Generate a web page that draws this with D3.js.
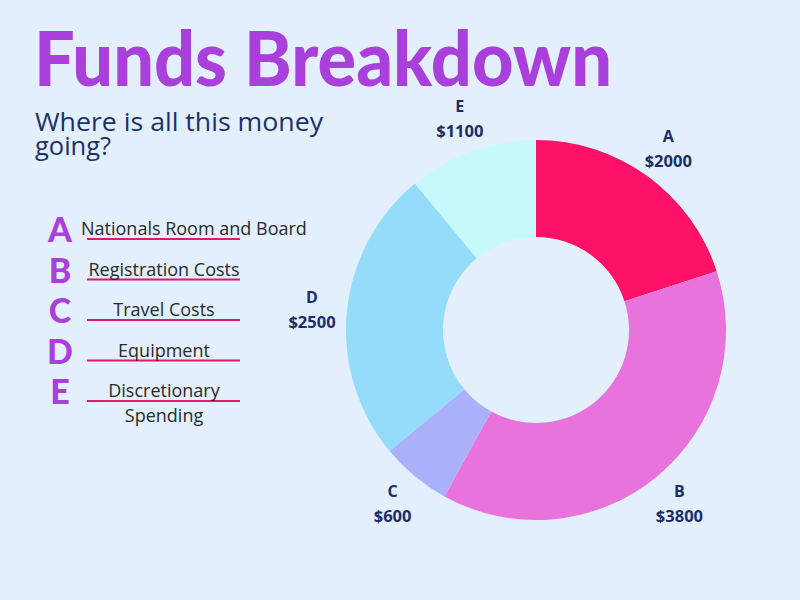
<!DOCTYPE html>
<html><head><meta charset="utf-8">
<script src="https://cdn.jsdelivr.net/npm/d3@7"></script>
<style>
html,body{margin:0;padding:0;background:#e3effc;}
svg{display:block;}
</style></head>
<body>
<svg id="chart" width="800" height="600"></svg>
<script>
const categories = ["A","B","C","D","E"];
const values = [2000,3800,600,2500,1100];
const valueLabels = ["$2000","$3800","$600","$2500","$1100"];
const descriptions = [["Nationals Room and Board"],["Registration Costs"],["Travel Costs"],["Equipment"],["Discretionary","Spending"]];
const colors = ["#fd1267","#e873dc","#aab1fa","#95dcfb","#c6f8fc"];

const svg = d3.select("#chart");
svg.append("rect").attr("width",800).attr("height",600).attr("fill","#e3effc");

// Title
svg.append("text").attr("x",34).attr("y",86)
  .attr("font-family","Lato").attr("font-weight",900).attr("font-size",77)
  .attr("fill","#a940dc").attr("textLength",578).attr("lengthAdjust","spacingAndGlyphs")
  .text("Funds Breakdown");

svg.append("text").attr("x",35).attr("y",131)
  .attr("font-family","Open Sans").attr("font-size",25.5).attr("fill","#1d2f6d")
  .attr("textLength",288).attr("lengthAdjust","spacingAndGlyphs")
  .text("Where is all this money");
svg.append("text").attr("x",35).attr("y",155)
  .attr("font-family","Open Sans").attr("font-size",25.5).attr("fill","#1d2f6d")
  .text("going?");

// Legend
const ly = d3.scalePoint().domain(categories).range([242,404]);
const leg = svg.append("g").selectAll("g").data(categories).join("g");
leg.append("text").attr("x",60).attr("y",d=>ly(d))
  .attr("text-anchor","middle").attr("font-family","Lato").attr("font-weight",900)
  .attr("font-size",34).attr("fill","#a940dc").text(d=>d);
leg.append("line").attr("x1",87).attr("x2",240)
  .attr("y1",d=>ly(d)-3).attr("y2",d=>ly(d)-3)
  .attr("stroke","#e0196b").attr("stroke-width",2.2);
leg.each(function(d,i){
  const g = d3.select(this);
  const lines = descriptions[i];
  lines.forEach((t,j)=>{
    g.append("text")
      .attr("x", i===0 ? 81 : 164)
      .attr("text-anchor", i===0 ? "start" : "middle")
      .attr("y", ly(d) - 7 + j*25)
      .attr("font-family","Open Sans").attr("font-size",18).attr("fill","#2a2a2a")
      .text(t);
  });
});

// Donut
const cx = 536, cy = 330, R = 190, r0 = 93, rl = 225;
const pie = d3.pie().sort(null).value(d=>d.v);
const data = pie(categories.map((c,i)=>({c, v:values[i], lab:valueLabels[i], col:colors[i]})));
const arc = d3.arc().innerRadius(r0).outerRadius(R);
const labArc = d3.arc().innerRadius(rl).outerRadius(rl);
const g = svg.append("g").attr("transform",`translate(${cx},${cy})`);
g.selectAll("path").data(data).join("path").attr("d",arc).attr("fill",d=>d.data.col);
const lab = g.selectAll("g.lab").data(data).join("g").attr("class","lab")
  .attr("transform",d=>`translate(${labArc.centroid(d)})`);
lab.append("text").attr("y",-6).attr("text-anchor","middle")
  .attr("font-family","Open Sans").attr("font-weight",700).attr("font-size",16).attr("fill","#1b2d6b")
  .text(d=>d.data.c);
lab.append("text").attr("y",19).attr("text-anchor","middle")
  .attr("font-family","Open Sans").attr("font-weight",700).attr("font-size",16.5).attr("fill","#1b2d6b")
  .text(d=>d.data.lab);
</script>
</body></html>
